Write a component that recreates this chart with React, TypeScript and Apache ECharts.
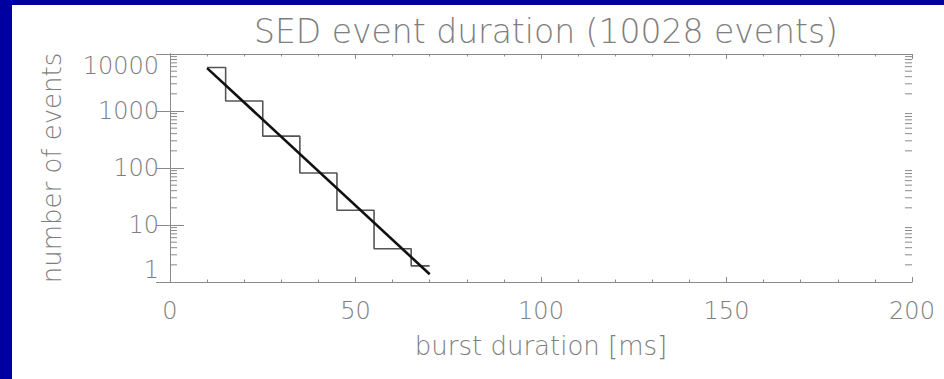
import { useEffect, useRef } from "react";
import * as echarts from "echarts";

const TITLE = "SED event duration (10028 events)";
const X_NAME = "burst duration [ms]";
const Y_NAME = "number of events";

const X_MIN = 0;
const X_MAX = 200;
const X_STEP = 50;
const Y_MIN = 1;
const Y_MAX = 10000;

// histogram (bin centres, counts)
const histX = [10, 20, 30, 40, 50, 60, 70];
const histY = [5810, 1500, 362, 81.7, 18.2, 3.84, 1.92];

// exponential fit line end points
const fitX = [10, 70];
const fitY = [5660, 1.37];

// log minor tick values
const minorY = [
  2, 3, 4, 5, 6, 7, 8, 9,
  20, 30, 40, 50, 60, 70, 80, 90,
  200, 300, 400, 500, 600, 700, 800, 900,
  2000, 3000, 4000, 5000, 6000, 7000, 8000, 9000,
];

const FONT = "'DejaVu Sans ExtraLight', 'DejaVu Sans', sans-serif";
const WEIGHT = 200;
const TEXT_COLOR = "#7e7e7e";
const AXIS_COLOR = "#8a8a8a";
const BLUE = "#0000a0";

export default function App() {
  const ref = useRef<HTMLDivElement>(null);

  useEffect(() => {
    if (!ref.current) return;
    const chart = echarts.init(ref.current, null, { renderer: "svg" });

    const axisLine = { show: true, lineStyle: { color: AXIS_COLOR, width: 1 } };
    const labelStyle = {
      fontFamily: FONT,
      fontWeight: WEIGHT,
      fontSize: 24,
      color: TEXT_COLOR,
    };

    const xCommon = {
      type: "value" as const,
      min: X_MIN,
      max: X_MAX,
      interval: X_STEP,
      axisLine,
      axisTick: { show: true, inside: true, length: 5, lineStyle: { color: AXIS_COLOR } },
      minorTick: { show: true, splitNumber: 5, length: 2.5, lineStyle: { color: AXIS_COLOR } },
      splitLine: { show: false },
      minorSplitLine: { show: false },
    };

    const yCommon = {
      type: "log" as const,
      logBase: 10,
      min: Y_MIN,
      max: Y_MAX,
      axisLine,
      axisTick: { show: true, inside: true, length: 14, lineStyle: { color: AXIS_COLOR } },
      splitLine: { show: false },
    };

    chart.setOption({
      animation: false,
      backgroundColor: "#ffffff",
      title: {
        text: TITLE,
        left: 541,
        textAlign: "center",
        top: 10,
        textStyle: {
          fontFamily: FONT,
          fontSize: 33,
          fontWeight: WEIGHT,
          color: TEXT_COLOR,
        },
      },
      grid: { left: 170, right: 32, top: 54, bottom: 97, show: false },
      graphic: [
        { type: "rect", left: 0, top: 0, shape: { width: 944, height: 5 }, style: { fill: BLUE }, z: 100 },
        { type: "rect", left: 0, top: 0, shape: { width: 12, height: 379 }, style: { fill: BLUE }, z: 100 },
      ],
      xAxis: [
        {
          ...xCommon,
          position: "bottom",
          axisLabel: { ...labelStyle, margin: 17 },
          name: X_NAME,
          nameLocation: "middle",
          nameGap: 51,
          nameTextStyle: { fontFamily: FONT, fontWeight: WEIGHT, fontSize: 26, color: TEXT_COLOR },
        },
        {
          ...xCommon,
          position: "top",
          axisLabel: { show: false },
        },
      ],
      yAxis: [
        {
          ...yCommon,
          position: "left",
          axisLabel: {
            ...labelStyle,
            margin: 11,
            formatter: (v: number) => String(Math.round(v)),
            verticalAlignMaxLabel: "top",
            verticalAlignMinLabel: "bottom",
          },
          name: Y_NAME,
          nameLocation: "middle",
          nameGap: 105,
          nameTextStyle: { fontFamily: FONT, fontWeight: WEIGHT, fontSize: 26, color: TEXT_COLOR },
        },
        {
          ...yCommon,
          position: "right",
          axisLabel: { show: false },
        },
      ],
      series: [
        {
          type: "custom",
          name: "minor ticks",
          xAxisIndex: 0,
          yAxisIndex: 0,
          silent: true,
          clip: false,
          data: minorY.map((v) => [X_MIN, v]),
          renderItem: (_params: any, api: any) => {
            const v = api.value(1);
            const l = api.coord([X_MIN, v]);
            const r = api.coord([X_MAX, v]);
            const style = { stroke: AXIS_COLOR, lineWidth: 1 };
            return {
              type: "group",
              children: [
                { type: "line", shape: { x1: l[0], y1: l[1], x2: l[0] + 7, y2: l[1] }, style },
                { type: "line", shape: { x1: r[0] - 7, y1: r[1], x2: r[0], y2: r[1] }, style },
              ],
            };
          },
        },
        {
          type: "line",
          name: "histogram",
          xAxisIndex: 0,
          yAxisIndex: 0,
          step: "middle",
          symbol: "none",
          data: histX.map((x, i) => [x, histY[i]]),
          lineStyle: { color: "#555555", width: 1.6 },
        },
        {
          type: "line",
          name: "fit",
          xAxisIndex: 0,
          yAxisIndex: 0,
          symbol: "none",
          data: fitX.map((x, i) => [x, fitY[i]]),
          lineStyle: { color: "#111111", width: 2.6 },
        },
      ],
    });

    return () => chart.dispose();
  }, []);

  return (
    <div
      ref={ref}
      style={{ position: "fixed", left: 0, top: 0, width: 944, height: 379 }}
    />
  );
}
